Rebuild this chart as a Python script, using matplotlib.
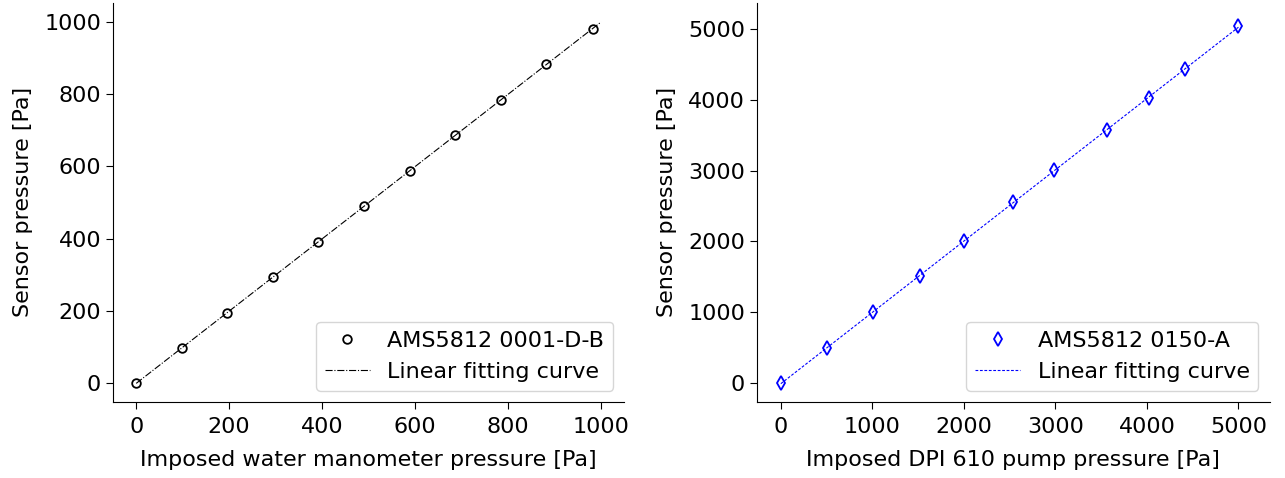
import numpy as np
import matplotlib
matplotlib.use("Agg")
import matplotlib.pyplot as plt

# Water manometer calibration (AMS5812 0001-D-B)
water_imposed = [0, 98, 196, 294, 392, 490, 588, 686, 784, 882, 982]
water_sensor = [0, 97, 195, 293, 391, 490, 588, 686, 783, 882, 980]

# DPI 610 pump calibration (AMS5812 0150-A)
pump_imposed = [0, 500, 1010, 1520, 2000, 2540, 2990, 3560, 4020, 4420, 5000]
pump_sensor = [0, 490, 1000, 1510, 2010, 2560, 3010, 3570, 4020, 4430, 5040]

left_xticks = [0, 200, 400, 600, 800, 1000]
left_yticks = [0, 200, 400, 600, 800, 1000]
right_xticks = [0, 1000, 2000, 3000, 4000, 5000]
right_yticks = [0, 1000, 2000, 3000, 4000, 5000]

FS = 16
plt.rcParams["font.family"] = ["DejaVu Sans"]
plt.rcParams["font.size"] = FS

fig = plt.figure(figsize=(12.85, 4.78), dpi=100)
ax1 = fig.add_axes([0.0879, 0.159, 0.398, 0.835])
ax2 = fig.add_axes([0.589, 0.159, 0.399, 0.835])


def fit_line(x, y, x_end):
    k, b = np.polyfit(x, y, 1)
    xs = np.array([0.0, x_end])
    return xs, k * xs + b


ax1.plot(water_imposed, water_sensor, "o", mfc="none", mec="black",
         mew=1.3, ms=6.2, label="AMS5812 0001-D-B", zorder=3)
fx, fy = fit_line(water_imposed, water_sensor, 1000)
ax1.plot(fx, fy, color="black", ls="-.", lw=0.8, label="Linear fitting curve")
ax1.set_xlim(-50, 1050)
ax1.set_ylim(-52, 1052)
ax1.set_xticks(left_xticks)
ax1.set_yticks(left_yticks)
ax1.set_xlabel("Imposed water manometer pressure [Pa]", labelpad=9)
ax1.set_ylabel("Sensor pressure [Pa]", labelpad=8)

ax2.plot(pump_imposed, pump_sensor, "d", mfc="none", mec="blue",
         mew=1.3, ms=7.5, label="AMS5812 0150-A", zorder=3)
fx, fy = fit_line(pump_imposed, pump_sensor, 5000)
ax2.plot(fx, fy, color="blue", ls="--", lw=0.8, dashes=(2.5, 1.5),
         label="Linear fitting curve")
ax2.set_xlim(-262, 5340)
ax2.set_ylim(-268, 5367)
ax2.set_xticks(right_xticks)
ax2.set_yticks(right_yticks)
ax2.set_xlabel("Imposed DPI 610 pump pressure [Pa]", labelpad=9)
ax2.set_ylabel("Sensor pressure [Pa]", labelpad=8)

for ax in (ax1, ax2):
    ax.spines["top"].set_visible(False)
    ax.spines["right"].set_visible(False)
    ax.tick_params(labelsize=FS, length=5)
    ax.tick_params(axis="x", pad=6)
    ax.legend(loc="lower right", fontsize=FS)

fig.savefig("out.png", dpi=100)
